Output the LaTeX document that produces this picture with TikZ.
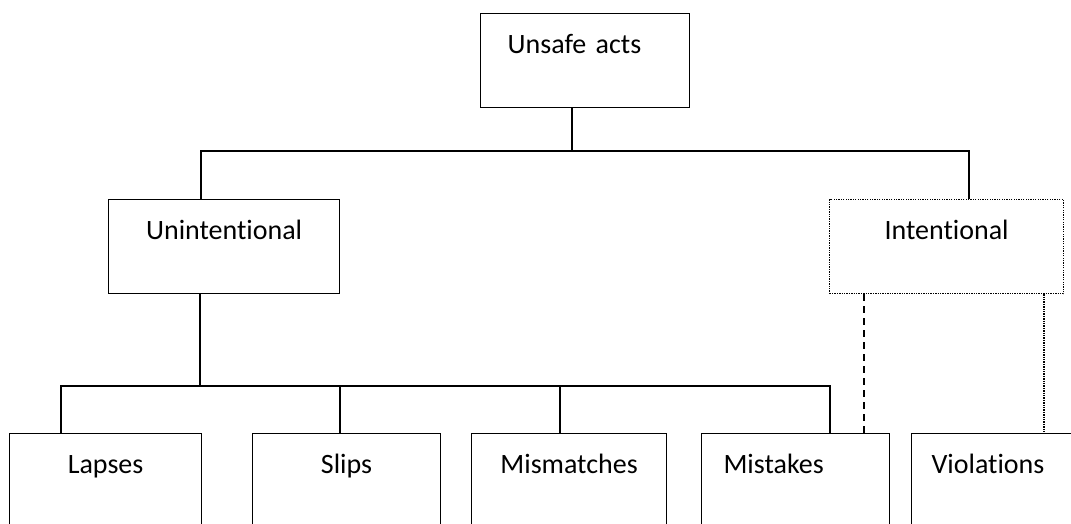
\documentclass[tikz,border=0pt]{standalone}
\usepackage{fontspec}
\setmainfont{Carlito}[Ligatures=NoCommon]
\usepackage{tikz}
\usetikzlibrary{positioning}
\tikzstyle{actBox} = [draw, line width=1.3pt, rectangle, inner ysep=0pt, text height=40pt, text depth=54pt, font=\fontsize{28}{34}\selectfont, anchor=north west]
\tikzstyle{kindBox} = [actBox, line width=1.1pt, text depth=100pt]
\tikzstyle{link} = [line width=1.4pt]

\begin{document}
\begin{tikzpicture}[x=1pt,y=-1pt]
            \useasboundingbox (0,0) rectangle (1071,523);
            \clip (0,0) rectangle (1071,523);
            \node (unsafe) at (480,13) [actBox, inner xsep=27pt, text width=155pt, align=left] {Unsafe acts};
            \node (unint) at (108,199) [actBox, inner xsep=0pt, minimum width=231pt] {Unintentional};
            \node (intent) at (829,199) [actBox, line width=1.2pt, dash pattern=on 1.3pt off 1.1pt, inner xsep=0pt, minimum width=234pt] {Intentional};
            \node (lapses) at (9,433) [kindBox, inner xsep=0pt, minimum width=192pt] {Lapses};
            \node (slips) at (252,433) [kindBox, inner xsep=0pt, minimum width=188pt] {Slips};
            \node (mismatch) at (471,433) [kindBox, inner xsep=0pt, minimum width=195pt] {Mismatches};
            \node (mistakes) at (701,433) [kindBox, inner xsep=22pt, text width=144pt, align=left] {Mistakes};
            \node (violations) at (911,433) [kindBox, inner xsep=20pt, text width=160pt, align=left] {Violations};
            \coordinate (tb) at (572,151);
            \coordinate (tl) at (201,151);
            \coordinate (tr) at (969,151);
            \coordinate (ub) at (200,386);
            \coordinate (bl) at (61,386);
            \coordinate (bs) at (340,386);
            \coordinate (bm) at (560,386);
            \coordinate (bk) at (830,386);
            \coordinate (dk) at (864,386);
            \coordinate (dv) at (1044,386);
            \draw[link](unsafe.south -| tb)--(tb);
            \draw[link](unint.north -| tl)--(tl)--(tr)--(intent.north -| tr);
            \draw[link](unint.south -| ub)--(ub);
            \draw[link](lapses.north -| bl)--(bl)--(bk)--(mistakes.north -| bk);
            \draw[link](slips.north -| bs)--(bs);
            \draw[link](mismatch.north -| bm)--(bm);
            \draw[link, dash pattern=on 7pt off 5pt](intent.south -| dk)--(mistakes.north -| dk);
            \draw[link, line width=1.2pt, dash pattern=on 1.3pt off 1.1pt](intent.south -| dv)--(violations.north -| dv);
        \end{tikzpicture}
\end{document}
